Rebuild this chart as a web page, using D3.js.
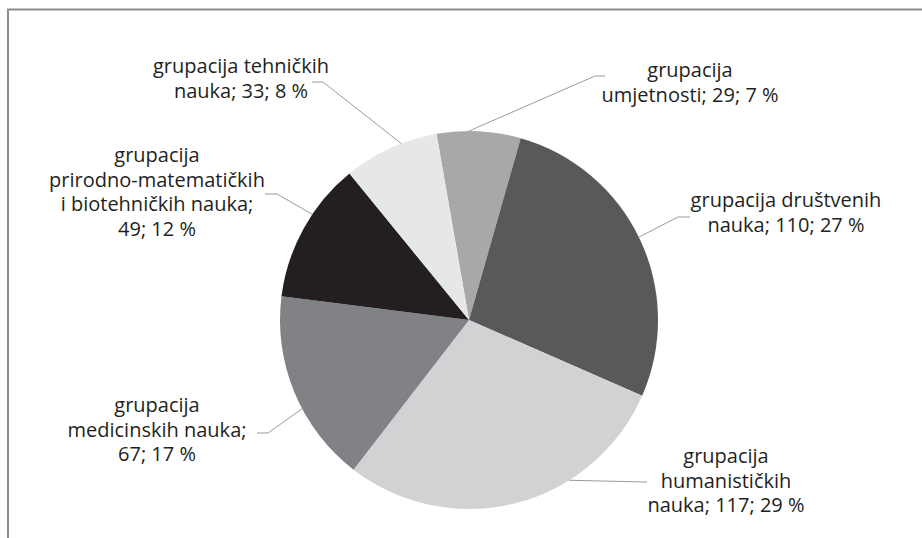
<!DOCTYPE html>
<html lang="hr">
    <head>
        <meta charset="utf-8">
        <title>Grupacije</title>
        <script type="text/javascript" src="https://cdnjs.cloudflare.com/ajax/libs/d3/7.8.5/d3.min.js"></script>
        <style type="text/css">
            body { margin: 0; background: #fff; }
            text { font-family: "Open Sans", "Noto Sans", sans-serif; fill: #231f20; }
        </style>
    </head>
    <body>
        <script type="text/javascript">
            // data, in drawing order (clockwise from the top)
            var categories = ["umjetnosti", "društvenih", "humanističkih", "medicinskih", "prirodno", "tehničkih"];
            var values = [29, 110, 117, 67, 49, 33];
            var percents = [7, 27, 29, 17, 12, 8];
            var labelLines = [
                ["grupacija", "umjetnosti; 29; 7 %"],
                ["grupacija društvenih", "nauka; 110; 27 %"],
                ["grupacija", "humanističkih", "nauka; 117; 29 %"],
                ["grupacija", "medicinskih nauka;", "67; 17 %"],
                ["grupacija", "prirodno-matematičkih", "i biotehničkih nauka;", "49; 12 %"],
                ["grupacija tehničkih", "nauka; 33; 8 %"]
            ];
            var colors = ["#a7a8aa", "#58595b", "#d1d2d4", "#808285", "#231f20", "#e6e7e8"];

            var w = 922;
            var h = 538;
            var cx = 469, cy = 320, r = 189;
            var startAngle = -9.9 * Math.PI / 180;
            var lineH = 24.5;

            // label layout: text centre x, first baseline y, leader angle (deg), elbow point
            var layout = [
                {x: 690, y: 77,  a: 0,   ex: 595, ey: 76,  tx: 605},
                {x: 786, y: 207, a: 64,  ex: 678, ey: 217, tx: 690},
                {x: 726, y: 463, a: 148, ex: 646, ey: 482, tx: 647},
                {x: 157, y: 412, a: 242, ex: 268, ey: 433, tx: 257},
                {x: 157, y: 162, a: 304, ex: 277, ey: 194, tx: 265},
                {x: 241, y: 73,  a: 339, ex: 323, ey: 82,  tx: 312}
            ];

            var svg = d3.select("body")
                        .append("svg")
                        .attr("width", w)
                        .attr("height", h);

            // chart frame (top and left edges only are visible)
            svg.append("path")
               .attr("d", "M8,538 L8,9.5 L922,9.5")
               .attr("fill", "none")
               .attr("stroke", "#8c8c8c")
               .attr("stroke-width", 2);

            var pie = d3.pie()
                        .sort(null)
                        .startAngle(startAngle)
                        .endAngle(startAngle + 2 * Math.PI)
                        .value(function (d) { return d; });

            var arc = d3.arc().innerRadius(0).outerRadius(r);

            var g = svg.append("g").attr("transform", "translate(" + cx + "," + cy + ")");

            g.selectAll("path")
             .data(pie(values))
             .enter()
             .append("path")
             .attr("d", arc)
             .attr("fill", function (d, i) { return colors[i]; });

            // leader lines
            svg.selectAll("polyline.leader")
               .data(layout)
               .enter()
               .append("polyline")
               .attr("class", "leader")
               .attr("fill", "none")
               .attr("stroke", "#9a9a9a")
               .attr("stroke-width", 1)
               .attr("points", function (d) {
                   var a = d.a * Math.PI / 180;
                   var sx = cx + r * Math.sin(a);
                   var sy = cy - r * Math.cos(a);
                   return [[sx, sy], [d.ex, d.ey], [d.tx, d.ey]].join(" ");
               });

            // labels
            var labels = svg.selectAll("text.lbl")
                            .data(labelLines)
                            .enter()
                            .append("text")
                            .attr("class", "lbl")
                            .attr("text-anchor", "middle")
                            .attr("font-size", 20);

            labels.selectAll("tspan")
                  .data(function (d, i) {
                      return d.map(function (s, j) { return {s: s, i: i, j: j}; });
                  })
                  .enter()
                  .append("tspan")
                  .attr("x", function (d) { return layout[d.i].x; })
                  .attr("y", function (d) { return layout[d.i].y + d.j * lineH; })
                  .text(function (d) { return d.s; });
        </script>
    </body>
</html>
